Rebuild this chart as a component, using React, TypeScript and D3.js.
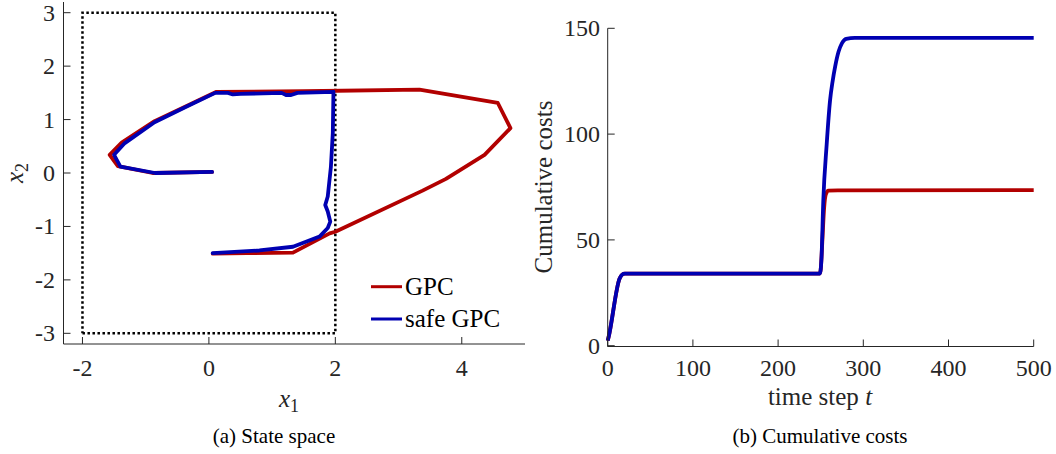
import React from "react";
import * as d3 from "d3";

// State-space trajectories (x1, x2)
const gpcX1 = [0.05, -0.89, -1.44, -1.57, -1.38, -0.86, -0.36, 0.12, 1.5, 3.33, 4.57, 4.77, 4.36, 3.75, 3.38, 2.0, 1.91, 1.33, 0.6, 0.06];
const gpcX2 = [0.02, 0.0, 0.13, 0.34, 0.57, 0.97, 1.25, 1.52, 1.53, 1.56, 1.31, 0.84, 0.34, -0.11, -0.33, -1.1, -1.13, -1.49, -1.5, -1.51];

const safeX1 = [0.05, -0.85, -1.4, -1.5, -1.33, -0.86, -0.36, 0.1, 0.3, 0.38, 0.5, 1.15, 1.22, 1.3, 1.4, 1.97, 1.96, 1.93, 1.88, 1.84, 1.88, 1.92, 1.88, 1.75, 1.33, 0.8, 0.06];
const safeX2 = [0.02, 0.0, 0.12, 0.34, 0.56, 0.95, 1.24, 1.5, 1.5, 1.47, 1.48, 1.5, 1.46, 1.46, 1.5, 1.52, 0.75, 0.12, -0.44, -0.6, -0.72, -0.91, -1.03, -1.19, -1.38, -1.45, -1.5];

// Safe set box
const boxX1 = [-2, 2, 2, -2, -2];
const boxX2 = [-3, -3, 3, 3, -3];

// Cumulative costs over time
const gpcT = [0, 1, 14, 17, 20, 249, 250, 252, 254, 256, 259, 270, 500];
const gpcCost = [2.4, 4, 31.8, 33.6, 34.1, 34.1, 36, 50, 65, 71.5, 73.3, 73.4, 73.5];
const safeT = [0, 1, 14, 17, 20, 249, 250, 251, 253, 257, 261, 264, 267, 271, 275, 280, 290, 500];
const safeCost = [2.4, 4, 31.8, 33.6, 34.1, 34.1, 36, 42, 68, 95, 116, 125, 132, 139, 143, 145, 145.5, 145.5];

const xTicksA = [-2, 0, 2, 4];
const yTicksA = [-3, -2, -1, 0, 1, 2, 3];
const xTicksB = [0, 100, 200, 300, 400, 500];
const yTicksB = [0, 50, 100, 150];

const RED = "#b20000";
const BLUE = "#0000b2";
const AXIS = "#262626";
const FONT = "Liberation Serif, serif";

export default function App() {
  const width = 1056, height = 454;

  // (a) state space
  const xa = d3.scaleLinear().domain([-2.3, 5]).range([63.5, 525]);
  const ya = d3.scaleLinear().domain([-3.2, 3.2]).range([344, 2]);
  const lineA = d3.line<[number, number]>().x((d) => xa(d[0])).y((d) => ya(d[1]));
  const gpcPts = gpcX1.map((v, i) => [v, gpcX2[i]] as [number, number]);
  const safePts = safeX1.map((v, i) => [v, safeX2[i]] as [number, number]);
  const boxPts = boxX1.map((v, i) => [v, boxX2[i]] as [number, number]);

  // (b) cumulative costs
  const xb = d3.scaleLinear().domain([0, 500]).range([607.7, 1033.7]);
  const yb = d3.scaleLinear().domain([0, 150]).range([345.7, 28.3]);
  const lineB = d3
    .line<[number, number]>()
    .x((d) => xb(d[0]))
    .y((d) => yb(d[1]))
    .curve(d3.curveMonotoneX);
  const gpcCostPts = gpcT.map((t, i) => [t, gpcCost[i]] as [number, number]);
  const safeCostPts = safeT.map((t, i) => [t, safeCost[i]] as [number, number]);

  const tickLen = 7;
  const tickFs = 24;
  const labelFs = 25;

  return (
    <svg
      width={width}
      height={height}
      style={{ position: "absolute", left: 0, top: 0, background: "#fff", fontFamily: FONT }}
    >
      {/* ---------- (a) State space ---------- */}
      <path d={lineA(boxPts) ?? ""} fill="none" stroke="#000" strokeWidth={2.5} strokeDasharray="2.5,2.5" />
      <path d={lineA(gpcPts) ?? ""} fill="none" stroke={RED} strokeWidth={3.8} strokeLinejoin="round" strokeLinecap="round" />
      <path d={lineA(safePts) ?? ""} fill="none" stroke={BLUE} strokeWidth={3.8} strokeLinejoin="round" strokeLinecap="round" />

      {/* axes */}
      <line x1={xa.range()[0]} x2={xa.range()[1]} y1={344} y2={344} stroke={AXIS} strokeWidth={1} />
      <line x1={63.5} x2={63.5} y1={2} y2={344} stroke={AXIS} strokeWidth={1} />
      {xTicksA.map((t) => (
        <g key={"xa" + t}>
          <line x1={xa(t)} x2={xa(t)} y1={344} y2={344 - tickLen} stroke={AXIS} />
          <text x={xa(t)} y={376} textAnchor="middle" fontSize={tickFs} fill={AXIS}>
            {t}
          </text>
        </g>
      ))}
      {yTicksA.map((t) => (
        <g key={"ya" + t}>
          <line x1={63.5} x2={63.5 + tickLen} y1={ya(t)} y2={ya(t)} stroke={AXIS} />
          <text x={55} y={ya(t) + 8} textAnchor="end" fontSize={tickFs} fill={AXIS}>
            {t}
          </text>
        </g>
      ))}
      <text x={289} y={407} textAnchor="middle" fontSize={labelFs} fill={AXIS} fontStyle="italic">
        x<tspan fontSize={18} fontStyle="normal" dy={5}>1</tspan>
      </text>
      <text transform="translate(23,173) rotate(-90)" textAnchor="middle" fontSize={labelFs} fill={AXIS} fontStyle="italic">
        x<tspan fontSize={18} fontStyle="normal" dy={5}>2</tspan>
      </text>

      {/* legend */}
      <line x1={371} x2={402} y1={286.7} y2={286.7} stroke={RED} strokeWidth={3} />
      <text x={405} y={295} fontSize={labelFs} fill="#000">GPC</text>
      <line x1={371} x2={402} y1={319} y2={319} stroke={BLUE} strokeWidth={3} />
      <text x={405} y={327} fontSize={labelFs} fill="#000">safe GPC</text>

      <text x={274} y={443} textAnchor="middle" fontSize={21} fill="#000">(a) State space</text>

      {/* ---------- (b) Cumulative costs ---------- */}
      <path d={lineB(gpcCostPts) ?? ""} fill="none" stroke={RED} strokeWidth={3.8} strokeLinejoin="round" />
      <path d={lineB(safeCostPts) ?? ""} fill="none" stroke={BLUE} strokeWidth={3.8} strokeLinejoin="round" />

      <line x1={xb.range()[0]} x2={xb.range()[1]} y1={346.5} y2={346.5} stroke={AXIS} strokeWidth={1} />
      <line x1={607.7} x2={607.7} y1={28.3} y2={346.5} stroke={AXIS} strokeWidth={1} />
      {xTicksB.map((t) => (
        <g key={"xb" + t}>
          <line x1={xb(t)} x2={xb(t)} y1={346.5} y2={346.5 - tickLen} stroke={AXIS} />
          <text x={xb(t)} y={376} textAnchor="middle" fontSize={tickFs} fill={AXIS}>
            {t}
          </text>
        </g>
      ))}
      {yTicksB.map((t) => (
        <g key={"yb" + t}>
          <line x1={607.7} x2={607.7 + tickLen} y1={yb(t)} y2={yb(t)} stroke={AXIS} />
          <text x={600} y={yb(t) + 8} textAnchor="end" fontSize={tickFs} fill={AXIS}>
            {t}
          </text>
        </g>
      ))}
      <text x={820} y={405} textAnchor="middle" fontSize={labelFs} fill={AXIS}>
        time step <tspan fontStyle="italic">t</tspan>
      </text>
      <text transform="translate(552,187) rotate(-90)" textAnchor="middle" fontSize={labelFs} fill={AXIS}>
        Cumulative costs
      </text>

      <text x={820} y={443} textAnchor="middle" fontSize={21} fill="#000">(b) Cumulative costs</text>
    </svg>
  );
}
